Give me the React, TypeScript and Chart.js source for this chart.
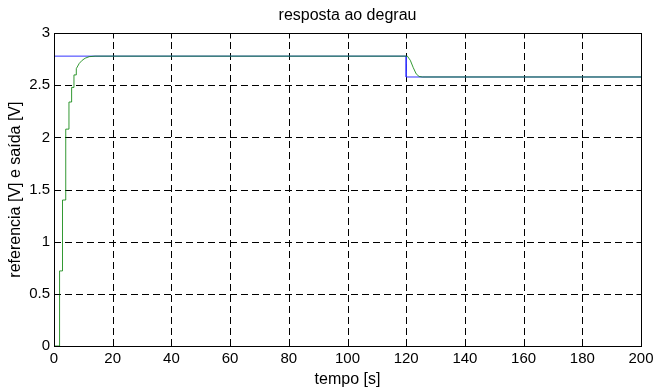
import React, { useEffect, useRef } from "react";
import { Chart, registerables } from "chart.js";

Chart.register(...registerables);

// Reference signal (setpoint) [V]
const refTimes = [0, 120, 120, 200];
const refValues = [2.78, 2.78, 2.58, 2.58];

// Plant output [V]
const outTimes = [
  0, 1.9, 1.9, 2.9, 2.9, 4.0, 4.0, 5.1, 5.1, 6.0, 6.0, 6.8, 6.8, 7.6, 7.6,
  8.6, 9.6, 10.6, 12, 14, 120.4, 121.4, 122.4, 123.4, 124.4, 125.5, 200,
];
const outValues = [
  0, 0, 0.72, 0.72, 1.4, 1.4, 2.08, 2.08, 2.34, 2.34, 2.48, 2.48, 2.6, 2.6,
  2.66, 2.71, 2.74, 2.76, 2.775, 2.78, 2.78, 2.74, 2.67, 2.61, 2.585, 2.58, 2.58,
];

const xTicks = [0, 20, 40, 60, 80, 100, 120, 140, 160, 180, 200];
const yTicks = [0, 0.5, 1, 1.5, 2, 2.5, 3];

const FONT = "'Liberation Sans', Arial, Helvetica, sans-serif";

const boxPlugin = {
  id: "matlabBox",
  beforeDatasetsDraw(chart: any) {
    const { ctx, chartArea } = chart;
    const { left, right, top, bottom } = chartArea;
    const xs = chart.scales.x;
    const ys = chart.scales.y;
    ctx.save();
    ctx.strokeStyle = "#000";
    ctx.lineWidth = 1;
    ctx.setLineDash([7, 4]);
    for (const v of xTicks) {
      const px = Math.round(xs.getPixelForValue(v)) + 0.5;
      ctx.beginPath();
      ctx.moveTo(px, bottom);
      ctx.lineTo(px, top);
      ctx.stroke();
    }
    for (const v of yTicks) {
      const py = Math.round(ys.getPixelForValue(v)) + 0.5;
      ctx.beginPath();
      ctx.moveTo(left, py);
      ctx.lineTo(right, py);
      ctx.stroke();
    }
    ctx.restore();
  },
  afterDatasetsDraw(chart: any) {
    const { ctx, chartArea } = chart;
    const { left, right, top, bottom } = chartArea;
    const xs = chart.scales.x;
    const ys = chart.scales.y;
    const L = Math.round(left) + 0.5;
    const R = Math.round(right) + 0.5;
    const T = Math.round(top) + 0.5;
    const B = Math.round(bottom) + 0.5;
    ctx.save();
    ctx.strokeStyle = "#000";
    ctx.lineWidth = 1;
    ctx.setLineDash([]);
    ctx.strokeRect(L, T, R - L, B - T);
    const tl = 5;
    for (const v of xTicks) {
      const px = Math.round(xs.getPixelForValue(v)) + 0.5;
      ctx.beginPath();
      ctx.moveTo(px, B);
      ctx.lineTo(px, B - tl);
      ctx.moveTo(px, T);
      ctx.lineTo(px, T + tl);
      ctx.stroke();
    }
    for (const v of yTicks) {
      const py = Math.round(ys.getPixelForValue(v)) + 0.5;
      ctx.beginPath();
      ctx.moveTo(L, py);
      ctx.lineTo(L + tl, py);
      ctx.moveTo(R, py);
      ctx.lineTo(R - tl, py);
      ctx.stroke();
    }
    ctx.restore();
  },
};

export default function App() {
  const canvasRef = useRef<HTMLCanvasElement | null>(null);

  useEffect(() => {
    if (!canvasRef.current) return;
    const chart = new Chart(canvasRef.current, {
      type: "line",
      data: {
        datasets: [
          {
            label: "referencia",
            data: refTimes.map((t, i) => ({ x: t, y: refValues[i] })),
            borderColor: "#3333ff",
            borderWidth: 1,
            pointRadius: 0,
            tension: 0,
            fill: false,
            order: 2,
          },
          {
            label: "saída",
            data: outTimes.map((t, i) => ({ x: t, y: outValues[i] })),
            borderColor: "rgba(0,128,0,0.8)",
            borderWidth: 1,
            pointRadius: 0,
            tension: 0,
            fill: false,
            order: 1,
          },
        ],
      },
      options: {
        responsive: false,
        animation: false,
        events: [],
        layout: { padding: { left: 0, right: 14, top: 0, bottom: 0 } },
        plugins: {
          legend: { display: false },
          tooltip: { enabled: false },
          title: {
            display: true,
            text: "resposta ao degrau",
            fullSize: false,
            color: "#000",
            font: { family: FONT, size: 16, weight: "normal" },
            padding: { top: 6, bottom: 8 },
          },
        },
        scales: {
          x: {
            type: "linear",
            min: 0,
            max: 200,
            afterFit: (s: any) => {
              s.height = 44;
              s.paddingRight = 0;
              s.paddingLeft = 0;
            },
            afterBuildTicks: (s: any) => {
              s.ticks = xTicks.map((v) => ({ value: v }));
            },
            grid: { display: false, drawTicks: false },
            border: { display: false },
            ticks: {
              color: "#000",
              padding: 4,
              maxRotation: 0,
              autoSkip: false,
              font: { family: FONT, size: 15 },
              callback: (v: any) => String(v),
            },
            title: {
              display: true,
              text: "tempo [s]",
              color: "#000",
              font: { family: FONT, size: 16 },
              padding: { top: 0, bottom: 1 },
            },
          },
          y: {
            type: "linear",
            min: 0,
            max: 3,
            afterFit: (s: any) => {
              s.width = 54;
            },
            afterBuildTicks: (s: any) => {
              s.ticks = yTicks.map((v) => ({ value: v }));
            },
            grid: { display: false, drawTicks: false },
            border: { display: false },
            ticks: {
              color: "#000",
              padding: 4,
              autoSkip: false,
              font: { family: FONT, size: 15 },
              callback: (v: any) => String(v),
            },
            title: {
              display: true,
              text: "referencia [V] e saída [V]",
              color: "#000",
              font: { family: FONT, size: 16 },
              padding: { top: 6, bottom: 0 },
            },
          },
        },
      },
      plugins: [boxPlugin],
    });
    return () => chart.destroy();
  }, []);

  return (
    <div style={{ position: "fixed", left: 0, top: 0, width: 655, height: 390, background: "#fff" }}>
      <canvas ref={canvasRef} width={655} height={390} style={{ display: "block" }} />
    </div>
  );
}
